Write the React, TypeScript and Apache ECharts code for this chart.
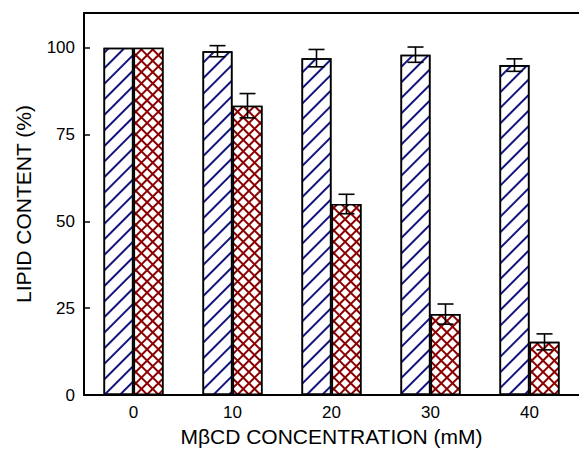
import React, { useEffect, useRef } from "react";
import * as echarts from "echarts";

const categories = ["0", "10", "20", "30", "40"];
const controlValues = [100, 99, 97, 98, 95];
const controlErrors = [0, 1.6, 2.5, 2.2, 1.8];
const treatedValues = [100, 83.3, 55, 23.3, 15.3];
const treatedErrors = [0, 3.5, 2.8, 2.9, 2.3];
const yTicks = [0, 25, 50, 75, 100];

const BAR_WIDTH = 30;
const FONT = "'Liberation Sans', Arial, Helvetica, sans-serif";

export default function App() {
  const ref = useRef<HTMLDivElement>(null);
  useEffect(() => {
    document.body.style.margin = "0";
    if (!ref.current) return;
    const chart = echarts.init(ref.current, undefined, { renderer: "svg" });

    const errData = (vals: number[], errs: number[], side: number) =>
      vals.map((v, i) => [i, v, errs[i], side]);

    const renderErr = (params: any, api: any) => {
      const err = api.value(2);
      if (!err) return null;
      const side = api.value(3);
      const idx = api.value(0);
      const v = api.value(1);
      const top = api.coord([idx, v + err]);
      const bot = api.coord([idx, v - err]);
      const x = top[0] + side * (BAR_WIDTH / 2);
      const cap = 8;
      const style = { stroke: "#000", lineWidth: 1.6 };
      return {
        type: "group",
        children: [
          { type: "line", shape: { x1: x, y1: top[1], x2: x, y2: bot[1] }, style },
          { type: "line", shape: { x1: x - cap, y1: top[1], x2: x + cap, y2: top[1] }, style },
          { type: "line", shape: { x1: x - cap, y1: bot[1], x2: x + cap, y2: bot[1] }, style },
        ],
      };
    };

    chart.setOption({
      animation: false,
      grid: { left: 84, right: 0, top: 13, bottom: 54, outerBoundsMode: "none", containLabel: false },
      xAxis: [
        {
          type: "category",
          data: categories,
          name: "MβCD CONCENTRATION (mM)",
          nameLocation: "middle",
          nameGap: 31,
          nameTextStyle: { fontFamily: FONT, fontSize: 21, color: "#000" },
          axisLine: { lineStyle: { color: "#000", width: 2 } },
          axisTick: { show: false },
          axisLabel: { fontFamily: FONT, fontSize: 17, color: "#000", margin: 9 },
        },
        {
          type: "category",
          data: categories,
          position: "top",
          axisLine: { show: true, lineStyle: { color: "#000", width: 2 } },
          axisTick: { show: false },
          axisLabel: { show: false },
        },
      ],
      yAxis: {
        type: "value",
        min: 0,
        max: 110,
        interval: 25,
        name: "LIPID CONTENT (%)",
        nameLocation: "middle",
        nameGap: 50,
        nameTextStyle: { fontFamily: FONT, fontSize: 21, color: "#000" },
        axisLine: { show: true, lineStyle: { color: "#000", width: 2 } },
        axisTick: { show: true, inside: true, length: 6, lineStyle: { color: "#000", width: 1.5 } },
        axisLabel: {
          fontFamily: FONT,
          fontSize: 17,
          color: "#000",
          margin: 9,
          showMaxLabel: false,
          formatter: (v: number) => (yTicks.includes(v) ? String(v) : ""),
        },
        splitLine: { show: false },
      },
      series: [
        {
          type: "bar",
          data: controlValues,
          barWidth: BAR_WIDTH,
          barGap: "0%",
          itemStyle: {
            color: "#ffffff",
            borderColor: "#000",
            borderWidth: 1.6,
            decal: {
              symbol: "rect",
              color: "#14147f",
              dashArrayX: [1, 0],
              dashArrayY: [1.6, 8.8],
              rotation: -Math.PI / 4,
            },
          },
          z: 2,
        },
        {
          type: "bar",
          data: treatedValues,
          barWidth: BAR_WIDTH,
          barGap: "0%",
          itemStyle: {
            color: "#8b0000",
            borderColor: "#000",
            borderWidth: 1.6,
            decal: {
              symbol: "rect",
              color: "#ffffff",
              dashArrayX: [5.3, 1.9],
              dashArrayY: [5.3, 1.9],
              rotation: Math.PI / 4,
            },
          },
          z: 2,
        },
        {
          type: "custom",
          renderItem: renderErr,
          data: errData(controlValues, controlErrors, -1),
          encode: { x: 0, y: 1 },
          z: 5,
        },
        {
          type: "custom",
          renderItem: renderErr,
          data: errData(treatedValues, treatedErrors, 1),
          encode: { x: 0, y: 1 },
          z: 5,
        },
      ],
    });
    return () => chart.dispose();
  }, []);
  return <div ref={ref} style={{ width: 579, height: 449 }} />;
}
